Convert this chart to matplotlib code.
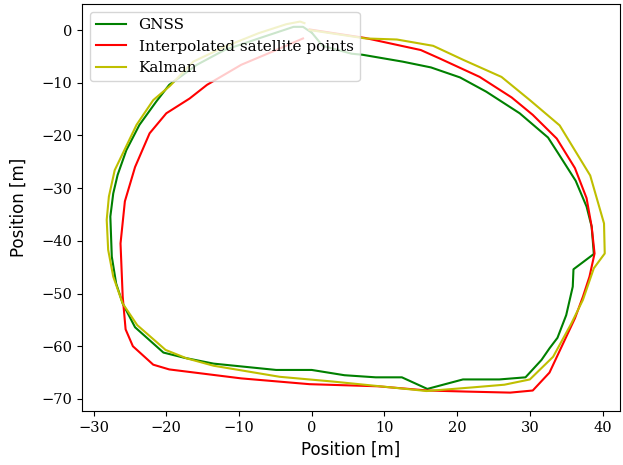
import matplotlib
matplotlib.use("Agg")
import matplotlib.pyplot as plt

gnss_x = [0.0, 1.5, 5.5, 7.0, 12.5, 16.4, 20.4, 24.0, 28.6, 32.5, 33.9, 36.3, 37.8, 38.5, 38.8, 36.0,
          35.9, 35.0, 33.8, 32.7, 31.6, 29.4, 25.8, 20.8, 15.9, 12.4, 8.8, 4.5, 0.0, -4.9, -9.2,
          -13.5, -17.5, -20.4, -24.3, -26.0, -26.9, -27.5, -27.7, -27.3, -26.7, -25.5, -23.7,
          -21.4, -19.6, -15.8, -12.0, -7.3, -2.5, -1.2, 0.0]
gnss_y = [-0.5, -3.0, -4.5, -4.7, -6.0, -7.1, -9.0, -11.7, -15.8, -20.4, -23.4, -28.6, -33.5, -37.3,
          -42.5, -45.4, -48.7, -54.1, -58.4, -60.4, -62.6, -65.9, -66.3, -66.3, -68.1, -65.9, -65.9,
          -65.5, -64.5, -64.5, -63.9, -63.3, -62.2, -61.2, -56.4, -51.9, -48.1, -43.0, -35.4, -31.0,
          -27.5, -22.8, -18.0, -13.6, -10.4, -6.6, -3.8, -1.6, 0.6, 0.6, -0.5]

interp_x = [-0.3, 7.3, 15.0, 17.6, 23.1, 27.5, 30.4, 33.7, 36.2, 37.8, 38.5, 38.9, 38.2, 37.3, 36.2,
            34.6, 32.7, 30.4, 27.3, 21.2, 15.9, 9.1, -0.3, -9.7, -19.6, -21.8, -24.6, -25.6, -26.0,
            -26.3, -25.7, -24.3, -22.3, -20.0, -16.8, -14.4, -9.7, -5.4, -1.2]
interp_y = [0.1, -1.5, -3.8, -5.4, -8.9, -12.8, -16.1, -20.6, -26.2, -31.9, -37.3, -42.4, -46.8,
            -50.6, -54.7, -59.4, -65.0, -68.4, -68.8, -68.6, -68.4, -67.6, -67.2, -66.1, -64.4,
            -63.5, -60.0, -56.8, -50.6, -40.5, -32.5, -26.0, -19.6, -15.8, -13.0, -10.4, -6.6,
            -4.1, -1.6]

kalman_x = [-0.3, 7.4, 11.7, 16.7, 20.9, 26.1, 30.0, 34.1, 38.3, 40.2, 40.3, 38.8, 37.3, 35.7, 33.2,
            30.0, 26.5, 22.2, 15.8, 9.4, 2.9, -4.4, -13.5, -17.2, -20.1, -24.0, -26.0, -27.3, -28.0,
            -28.2, -27.9, -27.1, -24.1, -21.8, -19.5, -16.3, -12.0, -7.3, -3.5, -1.6, -1.0]
kalman_y = [0.0, -1.6, -1.8, -3.0, -5.7, -8.9, -13.3, -18.1, -27.6, -36.7, -42.4, -45.2, -51.2,
            -55.7, -62.0, -66.3, -67.3, -67.8, -68.5, -67.6, -66.7, -65.8, -63.7, -62.3, -60.7,
            -56.0, -51.9, -46.8, -41.7, -36.0, -31.6, -26.6, -18.0, -13.3, -10.6, -6.0, -3.2,
            -0.6, 1.1, 1.6, 1.3]

labels = ["GNSS", "Interpolated satellite points", "Kalman"]

fig = plt.figure(figsize=(6.23, 4.65), dpi=100)
ax = fig.add_axes([0.1316, 0.116, 0.8636, 0.875])
ax.plot(gnss_x, gnss_y, color="g", lw=1.5, label=labels[0])
ax.plot(interp_x, interp_y, color="r", lw=1.5, label=labels[1])
ax.plot(kalman_x, kalman_y, color="y", lw=1.5, label=labels[2])

ax.set_xlim(-31.6, 42.4)
ax.set_ylim(-72.3, 4.9)
ax.set_xticks([-30, -20, -10, 0, 10, 20, 30, 40])
ax.set_yticks([0, -10, -20, -30, -40, -50, -60, -70])
for lab in ax.get_xticklabels() + ax.get_yticklabels():
    lab.set_family("DejaVu Serif")
    lab.set_fontsize(10.5)
ax.set_xlabel("Position [m]", fontsize=12)
ax.set_ylabel("Position [m]", fontsize=12, labelpad=10)
ax.legend(loc="upper left", prop={"family": "DejaVu Serif", "size": 11})

fig.savefig("out.png", dpi=100)
